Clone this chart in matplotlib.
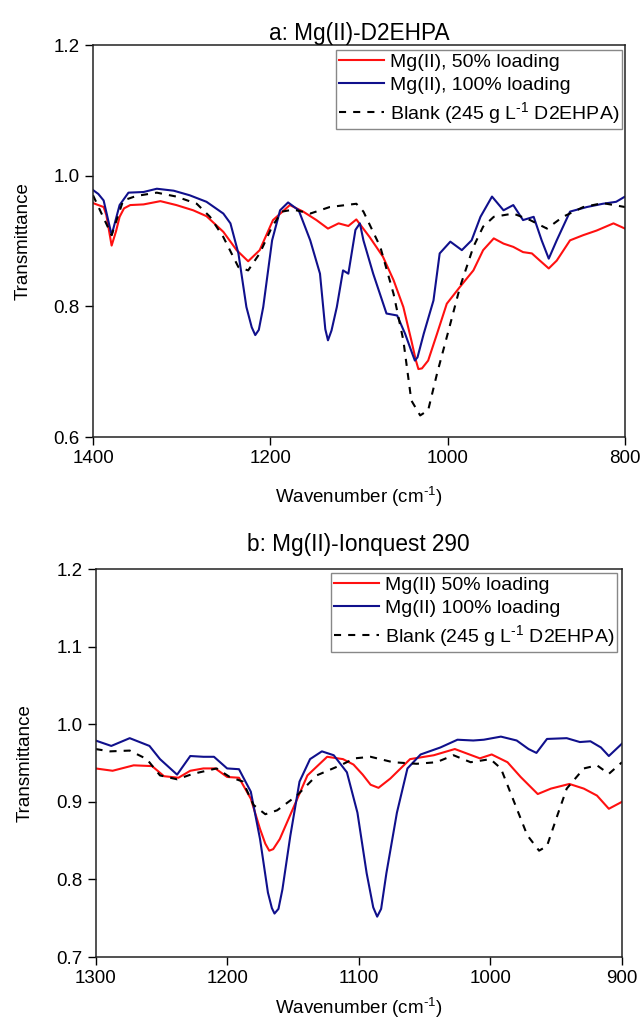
import matplotlib
matplotlib.use("Agg")
import matplotlib.pyplot as plt

plt.rcParams["font.family"] = ["Liberation Sans", "DejaVu Sans"]
plt.rcParams["mathtext.fontset"] = "custom"
plt.rcParams["mathtext.rm"] = "Liberation Sans"
plt.rcParams["mathtext.it"] = "Liberation Sans:italic"

# =========================
# data: panel a (D2EHPA)
# =========================
wn_a_red = [1400, 1388, 1385, 1379, 1374, 1370, 1365, 1358, 1343, 1324, 1306, 1287, 1272,
            1253, 1238, 1225, 1212, 1197, 1178, 1163, 1148, 1135, 1123, 1112, 1103, 1088,
            1073, 1061, 1050, 1041, 1036, 1033, 1029, 1022, 1012, 1001, 986, 971, 960, 948, 937, 926,
            915, 905, 896, 886, 877, 862, 847, 832, 813, 800]
t_a_red = [0.958, 0.952, 0.940, 0.893, 0.915, 0.937, 0.950, 0.955, 0.956, 0.961, 0.955, 0.947, 0.938,
           0.914, 0.886, 0.869, 0.886, 0.932, 0.955, 0.945, 0.932, 0.919, 0.927, 0.923, 0.933, 0.906,
           0.876, 0.840, 0.799, 0.748, 0.718, 0.704, 0.705, 0.717, 0.758, 0.804, 0.830, 0.855, 0.886, 0.904,
           0.896, 0.891, 0.883, 0.881, 0.870, 0.858, 0.870, 0.901, 0.909, 0.916, 0.927, 0.919]

wn_a_blue = [1400, 1394, 1388, 1379, 1370, 1360, 1343, 1328, 1309, 1291, 1272, 1253, 1245, 1236,
             1227, 1221, 1217, 1213, 1208, 1198, 1189, 1180, 1168, 1155, 1144, 1138, 1135, 1131, 1125,
             1118, 1112, 1104, 1099, 1095, 1084, 1069, 1057, 1048, 1040, 1037, 1034, 1027, 1016, 1009,
             997, 984, 973, 963, 950, 937, 926, 915, 903, 894, 886, 877, 862, 843, 825, 810, 800]
t_a_blue = [0.978, 0.972, 0.962, 0.909, 0.955, 0.974, 0.975, 0.980, 0.977, 0.970, 0.960, 0.942, 0.927, 0.881,
            0.799, 0.768, 0.756, 0.764, 0.799, 0.901, 0.947, 0.959, 0.947, 0.901, 0.850, 0.765, 0.748, 0.763,
            0.799, 0.855, 0.850, 0.917, 0.927, 0.901, 0.850, 0.789, 0.786, 0.758, 0.728, 0.717, 0.722, 0.758,
            0.809, 0.881, 0.899, 0.886, 0.901, 0.937, 0.968, 0.947, 0.955, 0.932, 0.937, 0.901, 0.873, 0.901,
            0.945, 0.952, 0.957, 0.960, 0.968]

wn_a_blank = [1400, 1379, 1366, 1351, 1328, 1306, 1283, 1268, 1253, 1236, 1225, 1212, 1198, 1187,
              1174, 1155, 1133, 1103, 1095, 1076, 1061, 1050, 1041, 1031, 1022, 1012, 999, 986,
              971, 960, 948, 926, 907, 888, 870, 847, 825, 800]
t_a_blank = [0.970, 0.909, 0.962, 0.969, 0.974, 0.968, 0.957, 0.937, 0.906, 0.860, 0.855, 0.881, 0.922, 0.945,
             0.948, 0.942, 0.952, 0.957, 0.945, 0.891, 0.819, 0.748, 0.656, 0.633, 0.641, 0.697, 0.763, 0.830,
             0.891, 0.922, 0.937, 0.942, 0.932, 0.919, 0.937, 0.952, 0.958, 0.952]

# =========================
# data: panel b (Ionquest 290)
# =========================
wn_b_red = [1300, 1287, 1271, 1257, 1248, 1237, 1228, 1218, 1209, 1200, 1191, 1182, 1175, 1171, 1168,
            1165, 1160, 1150, 1139, 1124, 1112, 1104, 1097, 1091, 1085, 1076, 1061, 1043, 1027, 1008,
            999, 987, 977, 964, 954, 940, 929, 919, 910, 900]
t_b_red = [0.943, 0.940, 0.947, 0.946, 0.933, 0.931, 0.940, 0.943, 0.943, 0.932, 0.931, 0.904, 0.865, 0.846,
           0.837, 0.839, 0.852, 0.891, 0.934, 0.958, 0.955, 0.948, 0.935, 0.922, 0.918, 0.930, 0.955, 0.960,
           0.968, 0.956, 0.961, 0.951, 0.932, 0.910, 0.917, 0.923, 0.917, 0.908, 0.891, 0.900]

wn_b_blue = [1300, 1288, 1274, 1259, 1251, 1238, 1228, 1218, 1210, 1200, 1191, 1182, 1175, 1169,
             1166, 1164, 1161, 1158, 1152, 1145, 1137, 1128, 1119, 1109, 1101, 1094, 1089, 1086, 1083,
             1079, 1071, 1063, 1053, 1038, 1025, 1013, 1005, 992, 980, 971, 965, 957, 942, 932, 924, 916,
             910, 900]
t_b_blue = [0.979, 0.972, 0.982, 0.972, 0.955, 0.935, 0.959, 0.958, 0.958, 0.943, 0.942, 0.913, 0.852, 0.783,
            0.763, 0.756, 0.762, 0.787, 0.856, 0.926, 0.955, 0.965, 0.960, 0.938, 0.886, 0.808, 0.764, 0.752,
            0.762, 0.808, 0.886, 0.943, 0.961, 0.970, 0.980, 0.979, 0.980, 0.984, 0.979, 0.968, 0.963, 0.981,
            0.982, 0.977, 0.978, 0.970, 0.959, 0.975]

wn_b_blank = [1300, 1289, 1274, 1261, 1251, 1238, 1226, 1208, 1198, 1188, 1180, 1171, 1162, 1147,
              1132, 1114, 1103, 1091, 1074, 1056, 1041, 1028, 1015, 1000, 992, 982, 972, 963, 957,
              949, 942, 929, 919, 910, 900]
t_b_blank = [0.968, 0.965, 0.966, 0.955, 0.934, 0.929, 0.936, 0.943, 0.932, 0.926, 0.896, 0.884, 0.889, 0.908,
             0.934, 0.947, 0.956, 0.958, 0.951, 0.949, 0.951, 0.960, 0.951, 0.955, 0.943, 0.900, 0.857, 0.837,
             0.843, 0.883, 0.917, 0.943, 0.947, 0.936, 0.951]

labels_a = ["Mg(II), 50% loading", "Mg(II), 100% loading", "Blank (245 g L$^{\\mathrm{\u2010}1}$ D2EHPA)"]
labels_b = ["Mg(II) 50% loading", "Mg(II) 100% loading", "Blank (245 g L$^{\\mathrm{\u2010}1}$ D2EHPA)"]

RED = "#ff1010"
BLUE = "#10108c"


def style_axes(ax):
    for s in ax.spines.values():
        s.set_linewidth(1.1)
        s.set_color("#222222")
    ax.tick_params(direction="out", length=5.5, width=1.0, labelsize=13.5, pad=4,
                   top=False, right=False)


def add_legend(ax, dx, dy, w, h):
    leg = ax.legend(loc="upper right", bbox_to_anchor=(1 - dx / w, 1 - dy / h), borderaxespad=0,
                    fontsize=14, frameon=True, fancybox=False, framealpha=1, edgecolor="#888888",
                    handlelength=2.3, handletextpad=0.3, borderpad=0.15, labelspacing=0.3)
    leg.get_frame().set_linewidth(1.0)


fig = plt.figure(figsize=(6.41, 10.23), dpi=100)

# =========================
# a: Mg(II)-D2EHPA
# =========================
ax1 = fig.add_axes([93 / 641, 1 - 437 / 1023, 532 / 641, 392 / 1023])
ax1.plot(wn_a_red, t_a_red, color=RED, lw=1.5, label=labels_a[0])
ax1.plot(wn_a_blue, t_a_blue, color=BLUE, lw=1.5, label=labels_a[1])
ax1.plot(wn_a_blank, t_a_blank, color="black", lw=1.5, linestyle=(0, (3.4, 3.4)), label=labels_a[2])
ax1.set_xlim(1400, 800)
ax1.set_ylim(0.6, 1.2)
ax1.set_xticks([1400, 1200, 1000, 800])
ax1.set_yticks([0.6, 0.8, 1.0, 1.2])
ax1.set_title("a: Mg(II)-D2EHPA", fontsize=16.3, pad=3)
ax1.set_xlabel("Wavenumber (cm$^{\\mathrm{\u2010}1}$)", fontsize=13.5, labelpad=13)
ax1.set_ylabel("Transmittance", fontsize=13.5, labelpad=16)
style_axes(ax1)
add_legend(ax1, 3, 5, 532, 392)

# =========================
# b: Mg(II)-Ionquest 290
# =========================
ax2 = fig.add_axes([95.5 / 641, 1 - 957 / 1023, 526.5 / 641, 388 / 1023])
ax2.plot(wn_b_red, t_b_red, color=RED, lw=1.5, label=labels_b[0])
ax2.plot(wn_b_blue, t_b_blue, color=BLUE, lw=1.5, label=labels_b[1])
ax2.plot(wn_b_blank, t_b_blank, color="black", lw=1.5, linestyle=(0, (3.4, 3.4)), label=labels_b[2])
ax2.set_xlim(1300, 900)
ax2.set_ylim(0.7, 1.2)
ax2.set_xticks([1300, 1200, 1100, 1000, 900])
ax2.set_yticks([0.7, 0.8, 0.9, 1.0, 1.1, 1.2])
ax2.set_title("b: Mg(II)-Ionquest 290", fontsize=16.3, pad=13)
ax2.set_xlabel("Wavenumber (cm$^{\\mathrm{\u2010}1}$)", fontsize=13.5, labelpad=6)
ax2.set_ylabel("Transmittance", fontsize=13.5, labelpad=16)
style_axes(ax2)
add_legend(ax2, 5, 4, 526.5, 388)

fig.savefig("out.png", dpi=100)
